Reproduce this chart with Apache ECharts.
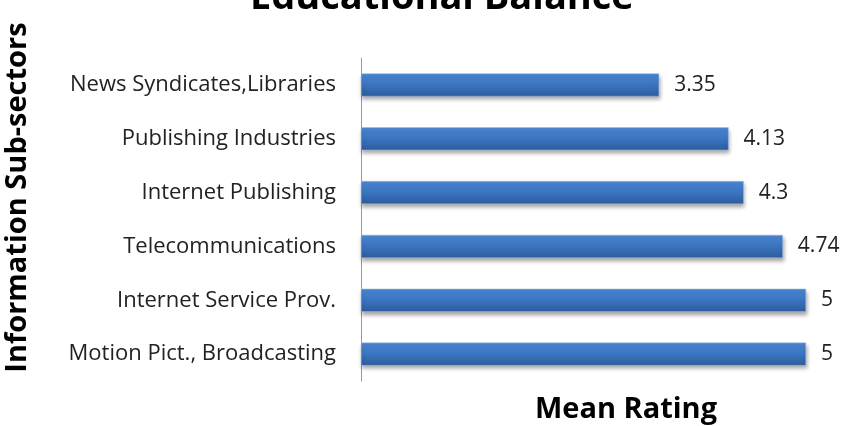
<!DOCTYPE html>
<html><head><meta charset="utf-8">
<script src="https://cdn.jsdelivr.net/npm/echarts@6/dist/echarts.min.js"></script>
<style>html,body{margin:0;padding:0;background:#fff}#c{width:848px;height:426px}</style>
</head><body><div id="c"></div>
<script>
const categories = ["Motion Pict., Broadcasting","Internet Service Prov.","Telecommunications","Internet Publishing","Publishing Industries","News Syndicates,Libraries"];
const values = [5, 5, 4.74, 4.3, 4.13, 3.35];
const labels = ["5","5","4.74","4.3","4.13","3.35"];
const chart = echarts.init(document.getElementById('c'));
chart.setOption({
  animation:false,
  title:{text:'Educational Balance',left:245,top:-26,textStyle:{fontFamily:'Open Sans',fontWeight:'bold',fontSize:38,color:'#000'}},
  grid:{left:361,top:58,width:445,height:323,outerBoundsMode:'none',containLabel:false},
  xAxis:{type:'value',min:0,max:5,show:true,axisLine:{show:false},axisTick:{show:false},axisLabel:{show:false},splitLine:{show:false},
    name:'Mean Rating',nameLocation:'middle',nameGap:14,nameTextStyle:{fontFamily:'Open Sans',fontWeight:'bold',fontSize:29,color:'#000',padding:[0,0,0,85]}},
  yAxis:{type:'category',data:categories,axisLine:{show:true,lineStyle:{color:'#999',width:1}},axisTick:{show:false},
    axisLabel:{margin:25,fontFamily:'Open Sans',fontSize:22,color:'#222'},
    name:'Information Sub-sectors',nameLocation:'middle',nameGap:329,nameRotate:90,nameTextStyle:{fontFamily:'Open Sans',fontWeight:'bold',fontSize:29,color:'#000',padding:[0,0,0,44]}},
  series:[{type:'bar',data:values,barWidth:23,
    itemStyle:{color:new echarts.graphic.LinearGradient(0,0,0,1,[{offset:0,color:'#4b88d6'},{offset:0.5,color:'#3b74bf'},{offset:1,color:'#2c5c9c'}]),
      borderColor:'#9cbde6',borderWidth:0.5,shadowColor:'rgba(0,0,0,0.35)',shadowBlur:4,shadowOffsetY:3,shadowOffsetX:1},
    label:{show:true,position:'right',distance:15,fontFamily:'Open Sans',fontSize:21,color:'#222',formatter:p=>labels[p.dataIndex]}}]
});
</script></body></html>
